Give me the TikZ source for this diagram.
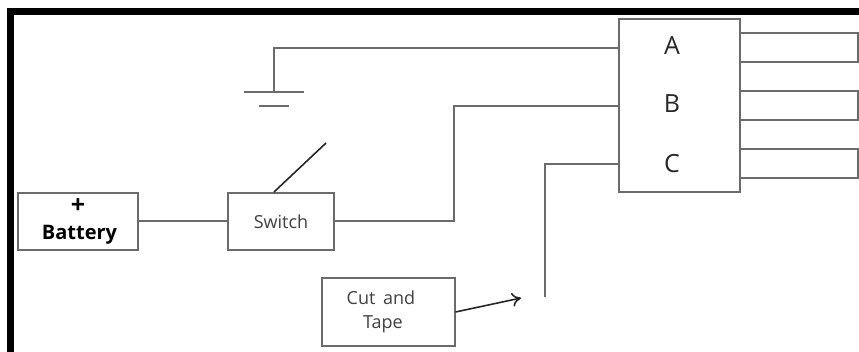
\documentclass[tikz,border=0pt]{standalone}
\usepackage{fontspec}
\setmainfont{Open Sans}
\usetikzlibrary{arrows.meta}
\tikzset{
	wire/.style={draw=black!58,line width=2pt},
	unit/.style={draw=black!58,line width=2pt,inner sep=0pt,align=center,text=black!75},
	letter/.style={inner sep=0pt,font=\fontsize{25}{27}\selectfont,text=black!85},
	frame/.style={fill=black,draw=none}
}
\begin{document}
\begin{tikzpicture}[x=1pt,y=-1pt]
	\useasboundingbox (0,0) rectangle (859,352);
	\fill[frame] (7,8) rectangle (859,15);
	\fill[frame] (7,8) rectangle (14,352);
	% boxes
	\node[unit,minimum width=120pt,minimum height=57pt,font=\fontsize{20}{26}\selectfont\bfseries,text=black] (battery) at (78,221.5) {{\fontsize{25}{26}\selectfont +}\\[0pt]\hspace*{3pt}Battery};
	\node[unit,minimum width=106pt,minimum height=57pt,font=\fontsize{18}{20}\selectfont] (switch) at (281,221.5) {Switch};
	\node[unit,minimum width=133pt,minimum height=68pt,font=\fontsize{18}{24}\selectfont] (cut) at (388,312) {\hspace*{-14pt}Cut\, and\\\hspace*{-10pt}Tape};
	\node[unit,minimum width=121pt,minimum height=173pt] (fuse) at (679,105.5) {};
	\node[letter] (labela) at (672,46) {A};
	\node[letter] (labelb) at (672,104) {B};
	\node[letter] (labelc) at (672,164) {C};
	% free ends
	\coordinate (gnd) at (273.5,92);
	\coordinate (gndl) at (244,92);
	\coordinate (gndr) at (304,92);
	\coordinate (gndbl) at (259,106);
	\coordinate (gndbr) at (289,106);
	\coordinate (lever) at (326,143);
	\coordinate (leverfoot) at (274,192);
	\coordinate (cutend) at (545,297);
	\coordinate (arrowend) at (521,298);
	\coordinate (ina) at (618.5,48);
	\coordinate (inb) at (618.5,106);
	\coordinate (inc) at (618.5,164);
	% wires
	\draw[wire] (battery) -- (switch);
	\draw[wire] (switch.east) -| (454,106) -- (inb);
	\draw[wire] (gnd) |- (ina);
	\draw[wire] (gndl) -- (gndr);
	\draw[wire] (gndbl) -- (gndbr);
	\draw[wire] (cutend) |- (inc);
	\draw[black!85,line width=1.6pt] (leverfoot) -- (lever);
	\draw[black!85,line width=1.6pt,-{To[length=9pt,width=14pt]}] (cut.east |- 0,312) -- (arrowend);
	% outputs
	\foreach \name/\ytop in {a/33,b/91,c/149}{
		\coordinate (out\name) at (739.5,\ytop);
		\draw[wire] (out\name) -- (858,\ytop) -- (858,\ytop+29) -- (739.5,\ytop+29);
	}
\end{tikzpicture}
\end{document}
